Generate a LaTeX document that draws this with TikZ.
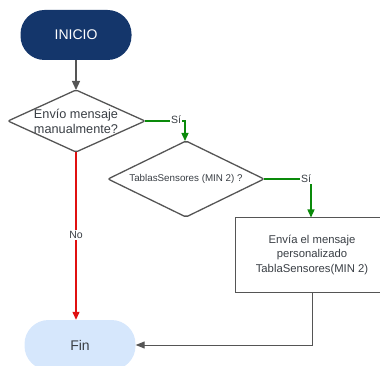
\documentclass[tikz,border=0pt]{standalone}
\usepackage{fontspec}
\setmainfont{Liberation Sans}
\usetikzlibrary{arrows.meta,shadows}
\definecolor{startblue}{HTML}{14366B}
\definecolor{endblue}{HTML}{D6E7FC}
\definecolor{linegray}{HTML}{555555}
\definecolor{txtgray}{HTML}{3A3F45}
\definecolor{okgreen}{HTML}{0A8A0A}
\definecolor{nored}{HTML}{E01010}
\tikzset{
  term/.style={rounded corners=24pt, minimum width=111pt, minimum height=50pt, inner sep=0pt},
  dshape/.style={draw=linegray, line width=1.3pt, fill=white, rounded corners=2pt},
  dtext/.style={inner sep=0pt, text=txtgray, align=center},
  procbox/.style={draw=linegray, line width=1pt, fill=white, minimum width=154pt, minimum height=74pt, align=center, text=txtgray, font=\fontsize{11.3}{14.5}\selectfont, drop shadow={opacity=0.25, shadow xshift=1pt, shadow yshift=-1pt}},
  conn/.style={line width=1.3pt, -{Triangle[length=8pt,width=7pt]}},
  lbl/.style={fill=white, inner sep=1pt, text=txtgray, font=\fontsize{10.5}{12}\selectfont}
}
\begin{document}
\begin{tikzpicture}[x=1pt,y=-1pt]
\useasboundingbox (0,0) rectangle (380,366);
\node[term, fill=startblue, text=white, font=\fontsize{14}{16}\selectfont] (inicio) at (76,35) {INICIO};
% decision 1
\coordinate (d1n) at (76,90);
\coordinate (d1e) at (145,121);
\coordinate (d1s) at (76,152);
\coordinate (d1w) at (8,121);
\draw[dshape] (d1n) -- (d1e) -- (d1s) -- (d1w) -- cycle;
\node[dtext, font=\fontsize{12.7}{15}\selectfont] (d1) at (76,121) {Envío mensaje\\manualmente?};
% decision 2
\coordinate (d2n) at (186,141);
\coordinate (d2e) at (264,179);
\coordinate (d2s) at (186,217);
\coordinate (d2w) at (108,179);
\draw[dshape] (d2n) -- (d2e) -- (d2s) -- (d2w) -- cycle;
\node[dtext, font=\fontsize{9.8}{11}\selectfont] (d2) at (186,179) {TablasSensores (MIN 2) ?};
\node[procbox] (box) at (312,255) {Envía el mensaje\\personalizado\\TablaSensores(MIN 2)};
\node[term, fill=endblue, text=txtgray, font=\fontsize{14}{16}\selectfont] (fin) at (80,345) {Fin};
\coordinate (c1) at (185,121);
\coordinate (c2) at (311,179);
\coordinate (c3) at (312,345);
\draw[conn, draw=linegray, -{Triangle[length=9pt,width=8pt]}] (inicio.south -| d1n) -- (d1n);
\draw[conn, draw=okgreen] (d1e) -- (c1) -- (c1 |- d2n);
\node[lbl] at (176,120) {Sí};
\draw[conn, draw=okgreen] (d2e) -- (c2) -- (c2 |- box.north);
\node[lbl] at (306,179) {Sí};
\draw[conn, draw=nored] (d1s) -- (d1s |- fin.north);
\node[lbl] at (76,235) {No};
\draw[line width=1pt, draw=linegray, -{Triangle[length=9pt,width=7pt]}] (box.south -| c3) -- (c3) -- (fin.east);
\end{tikzpicture}
\end{document}
